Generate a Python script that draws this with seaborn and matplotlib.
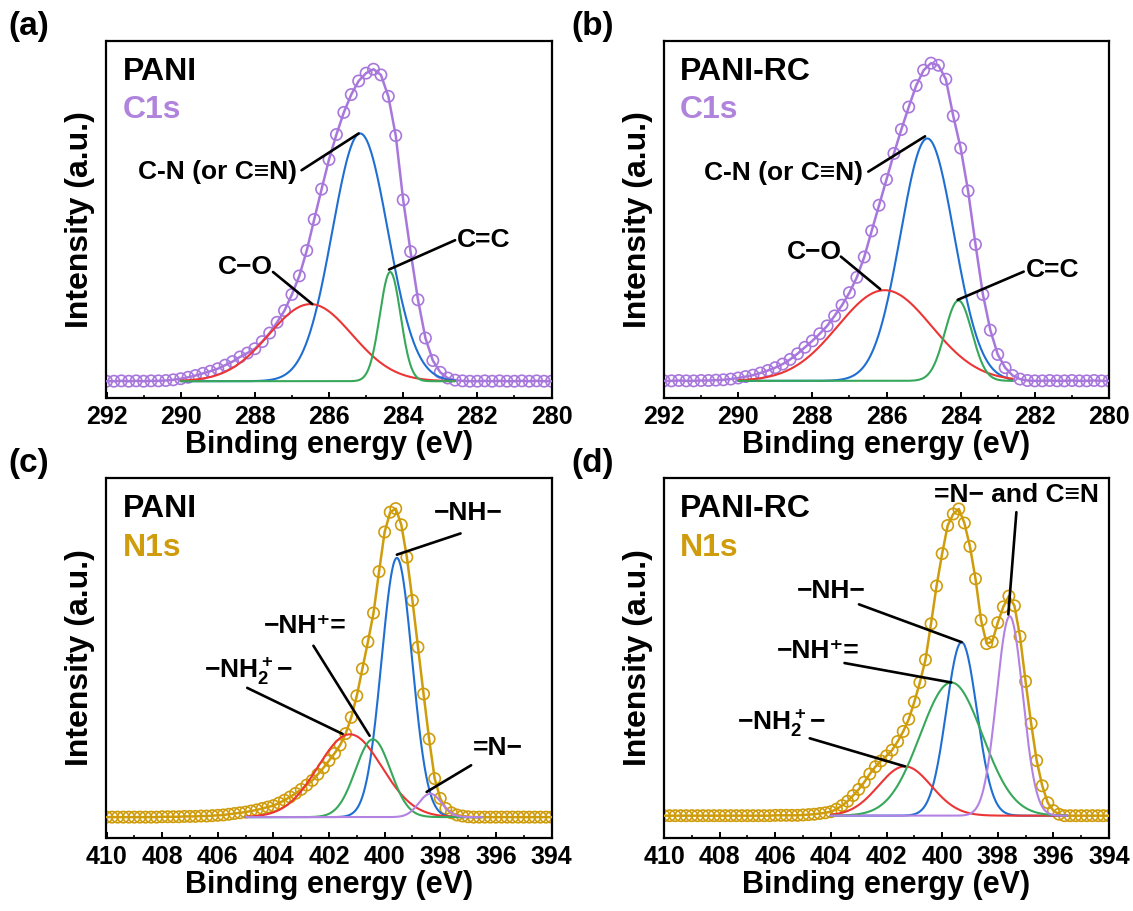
import numpy as np
import matplotlib
matplotlib.use('Agg')
import matplotlib.pyplot as plt
import seaborn as sns

sns.set_style('ticks')
plt.rcParams['font.family'] = ['Liberation Sans', 'DejaVu Sans']
plt.rcParams['font.weight'] = 'bold'
plt.rcParams['axes.labelweight'] = 'bold'
plt.rcParams['text.color'] = 'black'
plt.rcParams['axes.labelcolor'] = 'black'
plt.rcParams['xtick.color'] = 'black'
plt.rcParams['mathtext.fontset'] = 'custom'
plt.rcParams['mathtext.rm'] = 'Liberation Sans:bold'
plt.rcParams['mathtext.bf'] = 'Liberation Sans:bold'
plt.rcParams['mathtext.default'] = 'rm'

# energy grids of the measured points (eV)
c1s_energy = np.round(np.arange(292.0, 279.9, -0.2), 1)
n1s_energy = np.round(np.arange(410.0, 393.9, -0.2), 1)

pani_c1s = [0.047, 0.047, 0.048, 0.047, 0.048, 0.047, 0.048, 0.048, 0.049, 0.051,
            0.054, 0.058, 0.063, 0.069, 0.075, 0.082, 0.092, 0.102, 0.115, 0.126,
            0.138, 0.158, 0.182, 0.212, 0.245, 0.290, 0.342, 0.413, 0.500, 0.585,
            0.668, 0.738, 0.800, 0.850, 0.888, 0.910, 0.921, 0.905, 0.845, 0.735,
            0.555, 0.410, 0.275, 0.168, 0.105, 0.072, 0.056, 0.050, 0.048, 0.047,
            0.047, 0.048, 0.047, 0.048, 0.047, 0.047, 0.048, 0.047, 0.048, 0.047,
            0.047]
panirc_c1s = [0.048, 0.048, 0.049, 0.048, 0.048, 0.049, 0.049, 0.050, 0.051, 0.053,
              0.056, 0.060, 0.064, 0.070, 0.077, 0.085, 0.095, 0.108, 0.124, 0.142,
              0.160, 0.180, 0.202, 0.230, 0.260, 0.295, 0.338, 0.395, 0.468, 0.540,
              0.612, 0.685, 0.752, 0.815, 0.875, 0.918, 0.938, 0.932, 0.893, 0.790,
              0.700, 0.580, 0.430, 0.290, 0.190, 0.122, 0.085, 0.063, 0.053, 0.049,
              0.048, 0.048, 0.049, 0.048, 0.048, 0.049, 0.048, 0.048, 0.049, 0.048,
              0.048]
pani_n1s = [0.058, 0.058, 0.058, 0.058, 0.058, 0.058, 0.058, 0.058, 0.058, 0.058,
            0.059, 0.059, 0.059, 0.059, 0.060, 0.060, 0.060, 0.061, 0.061, 0.062,
            0.063, 0.064, 0.066, 0.068, 0.070, 0.072, 0.075, 0.078, 0.082, 0.086,
            0.090, 0.097, 0.105, 0.114, 0.124, 0.135, 0.147, 0.160, 0.177, 0.195,
            0.215, 0.235, 0.258, 0.290, 0.335, 0.395, 0.470, 0.545, 0.625, 0.740,
            0.850, 0.905, 0.915, 0.870, 0.780, 0.660, 0.530, 0.400, 0.275, 0.165,
            0.110, 0.082, 0.070, 0.064, 0.061, 0.059, 0.058, 0.058, 0.058, 0.058,
            0.058, 0.058, 0.058, 0.058, 0.058, 0.058, 0.058, 0.058, 0.058, 0.058,
            0.058]
panirc_n1s = [0.062, 0.062, 0.062, 0.062, 0.062, 0.062, 0.062, 0.062, 0.062, 0.062,
              0.062, 0.062, 0.062, 0.062, 0.062, 0.062, 0.062, 0.062, 0.062, 0.062,
              0.063, 0.063, 0.063, 0.063, 0.063, 0.064, 0.065, 0.066, 0.068, 0.070,
              0.073, 0.080, 0.090, 0.102, 0.118, 0.135, 0.155, 0.178, 0.198, 0.214,
              0.228, 0.244, 0.268, 0.296, 0.330, 0.378, 0.432, 0.495, 0.595, 0.700,
              0.790, 0.868, 0.900, 0.914, 0.875, 0.810, 0.720, 0.605, 0.540, 0.545,
              0.598, 0.642, 0.672, 0.645, 0.560, 0.435, 0.318, 0.215, 0.145, 0.098,
              0.076, 0.066, 0.062, 0.062, 0.062, 0.062, 0.062, 0.062, 0.062, 0.062,
              0.062]

# fitted components: centre (eV), height above baseline, sigma (eV)
pani_c1s_peaks = ['C-N (or C≡N)', 'C−O', 'C=C']
pani_c1s_center = [285.16, 286.50, 284.35]
pani_c1s_height = [0.694, 0.216, 0.306]
pani_c1s_sigma = [0.75, 1.12, 0.28]
pani_c1s_base = 0.047

panirc_c1s_peaks = ['C-N (or C≡N)', 'C−O', 'C=C']
panirc_c1s_center = [284.90, 286.05, 284.06]
panirc_c1s_height = [0.679, 0.254, 0.225]
panirc_c1s_sigma = [0.72, 1.26, 0.365]
panirc_c1s_base = 0.048

pani_n1s_peaks = ['−NH−', '−NH$_2^+$−', '−NH⁺=', '=N−']
pani_n1s_center = [399.56, 401.25, 400.42, 398.36]
pani_n1s_height = [0.720, 0.230, 0.216, 0.065]
pani_n1s_sigma = [0.55, 1.15, 0.63, 0.41]
pani_n1s_base = 0.058

panirc_n1s_peaks = ['−NH−', '−NH$_2^+$−', '−NH⁺=', '=N− and C≡N']
panirc_n1s_center = [399.30, 401.34, 399.67, 397.57]
panirc_n1s_height = [0.482, 0.137, 0.370, 0.554]
panirc_n1s_sigma = [0.55, 0.95, 1.12, 0.47]
panirc_n1s_base = 0.062

PURPLE = '#a877dc'
GOLD = '#cf9c0c'
BLUE = '#1f6fd3'
RED = '#ec3535'
GREEN = '#37a85a'
LILAC = '#b482e2'


def gauss(x, c, h, s, b):
    return b + h * np.exp(-(x - c) ** 2 / (2 * s ** 2))


def draw_panel(ax, energy, env, color, centers, heights, sigmas, base, colors, fit_range, xlim):
    sns.scatterplot(x=energy, y=env, ax=ax, marker='o', s=66, linewidth=1.2,
                    color=color, zorder=2, legend=False)
    pts = ax.collections[-1]
    pts.set_facecolor('none')
    pts.set_edgecolor(color)
    sns.lineplot(x=energy, y=env, ax=ax, color=color, lw=1.8, zorder=3,
                 estimator=None, sort=False)
    xx = np.linspace(fit_range[0], fit_range[1], 600)
    for c, h, s, col in zip(centers, heights, sigmas, colors):
        sns.lineplot(x=xx, y=gauss(xx, c, h, s, base), ax=ax, color=col, lw=1.5,
                     zorder=4, estimator=None, sort=False)
    ax.set_xlim(*xlim)
    ax.set_ylim(0, 1)
    ax.set_yticks([])
    ax.set_xticks(np.arange(xlim[1], xlim[0] + 0.1, 2))
    ax.set_xticks(np.arange(xlim[1], xlim[0] + 0.1, 1), minor=True)
    ax.tick_params(axis='x', which='major', direction='in', length=4, width=1.4,
                   labelsize=18, pad=5, top=False)
    ax.tick_params(axis='x', which='minor', direction='in', length=2.5, width=1.2, top=False)
    for sp in ax.spines.values():
        sp.set_linewidth(1.6)
        sp.set_color('black')
    ax.set_xlabel('Binding energy (eV)', fontsize=22, labelpad=1)
    ax.set_ylabel('Intensity (a.u.)', fontsize=23, labelpad=8)


def leader(ax, text, txy, start, end, ha='left'):
    ax.text(txy[0], txy[1], text, fontsize=19, fontweight='bold', ha=ha, va='center', zorder=6)
    ax.annotate('', xy=end, xytext=start,
                arrowprops=dict(arrowstyle='-', lw=1.9, color='black', shrinkA=0, shrinkB=0),
                zorder=6)


fig = plt.figure(figsize=(11.33, 9.11), dpi=100)
W, H = 1133, 911
ax_a = fig.add_axes([106.5 / W, 1 - 398 / H, 445 / W, 357 / H])
ax_b = fig.add_axes([664 / W, 1 - 398 / H, 445 / W, 357 / H])
ax_c = fig.add_axes([106.5 / W, 1 - 838 / H, 445 / W, 360 / H])
ax_d = fig.add_axes([664 / W, 1 - 838 / H, 445 / W, 360 / H])

draw_panel(ax_a, c1s_energy, pani_c1s, PURPLE, pani_c1s_center, pani_c1s_height,
           pani_c1s_sigma, pani_c1s_base, [BLUE, RED, GREEN], (290.0, 282.6), (292, 280))
draw_panel(ax_b, c1s_energy, panirc_c1s, PURPLE, panirc_c1s_center, panirc_c1s_height,
           panirc_c1s_sigma, panirc_c1s_base, [BLUE, RED, GREEN], (290.0, 282.6), (292, 280))
draw_panel(ax_c, n1s_energy, pani_n1s, GOLD, pani_n1s_center, pani_n1s_height,
           pani_n1s_sigma, pani_n1s_base, [BLUE, RED, GREEN, LILAC], (405.0, 396.5), (410, 394))
draw_panel(ax_d, n1s_energy, panirc_n1s, GOLD, panirc_n1s_center, panirc_n1s_height,
           panirc_n1s_sigma, panirc_n1s_base, [BLUE, RED, GREEN, LILAC], (404.0, 395.5), (410, 394))

# sample names and core levels
for ax, name, core, col, x0 in [(ax_a, 'PANI', 'C1s', '#b083dc', 291.55),
                                (ax_b, 'PANI-RC', 'C1s', '#b083dc', 291.58),
                                (ax_c, 'PANI', 'N1s', GOLD, 409.40),
                                (ax_d, 'PANI-RC', 'N1s', GOLD, 409.43)]:
    ax.text(x0, 0.913, name, fontsize=23, fontweight='bold', va='center', ha='left')
    ax.text(x0, 0.806, core, fontsize=23, fontweight='bold', va='center', ha='left', color=col)

# annotations (a)
leader(ax_a, pani_c1s_peaks[0], (291.15, 0.634), (286.74, 0.638), (285.20, 0.741))
leader(ax_a, pani_c1s_peaks[1], (289.0, 0.367), (287.51, 0.353), (286.45, 0.263))
leader(ax_a, pani_c1s_peaks[2], (282.55, 0.442), (282.60, 0.442), (284.38, 0.360))
# annotations (b)
leader(ax_b, panirc_c1s_peaks[0], (290.92, 0.629), (286.49, 0.634), (284.96, 0.733))
leader(ax_b, panirc_c1s_peaks[1], (288.70, 0.410), (287.23, 0.396), (286.17, 0.305))
leader(ax_b, panirc_c1s_peaks[2], (282.25, 0.359), (282.30, 0.354), (284.08, 0.275))
# annotations (c)
leader(ax_c, pani_n1s_peaks[0], (398.23, 0.902), (397.27, 0.846), (399.56, 0.787))
leader(ax_c, pani_n1s_peaks[2], (404.33, 0.590), (402.56, 0.534), (400.54, 0.284))
leader(ax_c, pani_n1s_peaks[1], (406.51, 0.464), (404.94, 0.417), (401.51, 0.289))
leader(ax_c, pani_n1s_peaks[3], (396.82, 0.249), (396.89, 0.202), (398.49, 0.128))
# annotations (d)
leader(ax_d, panirc_n1s_peaks[3], (400.29, 0.952), (397.33, 0.905), (397.62, 0.621))
leader(ax_d, panirc_n1s_peaks[0], (405.22, 0.686), (402.99, 0.649), (399.30, 0.544))
leader(ax_d, panirc_n1s_peaks[2], (405.95, 0.519), (403.51, 0.486), (399.67, 0.432))
leader(ax_d, panirc_n1s_peaks[1], (407.39, 0.318), (404.76, 0.277), (401.34, 0.199))

# panel letters
for lab, x, y in [('(a)', 8, 27), ('(b)', 571, 27), ('(c)', 8, 463), ('(d)', 571, 463)]:
    fig.text(x / W, 1 - y / H, lab, fontsize=24, fontweight='bold', ha='left', va='center')

fig.savefig('out.png', dpi=100)
